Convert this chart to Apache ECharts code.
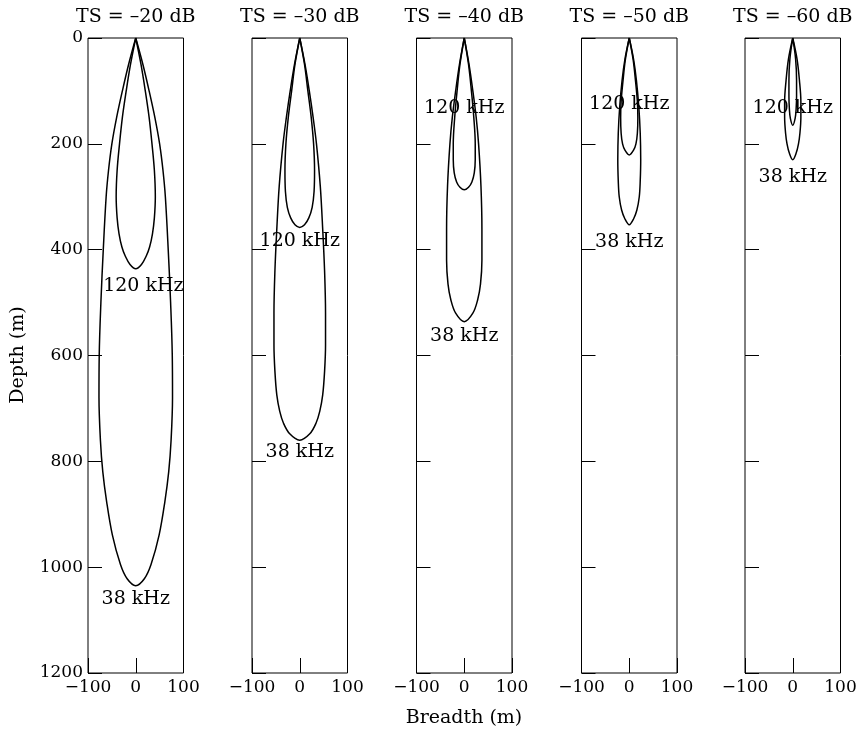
<!DOCTYPE html>
<html>
<head>
<meta charset="utf-8">
<title>Detection range by target strength</title>
<script src="https://cdn.jsdelivr.net/npm/echarts@6/dist/echarts.min.js"></script>
<style>
  html, body { margin: 0; padding: 0; background: #fff; }
  #chart { width: 860px; height: 733px; }
</style>
</head>
<body>
<div id="chart"></div>
<script>
// Target strength of each panel
const tsLevels = ['–20', '–30', '–40', '–50', '–60'];

// 38 kHz beam outline: depth (m) and half-breadth (m) along the right-hand side, top to bottom
const depth38 = [
  [0, 50, 100, 150, 200, 250, 300, 400, 500, 600, 680, 760, 820, 876, 939, 995, 1022, 1035],
  [0, 50, 100, 150, 200, 280, 360, 440, 520, 580, 630, 675, 705, 728, 748, 760],
  [0, 50, 100, 150, 200, 280, 360, 420, 465, 495, 520, 536],
  [0, 40, 80, 130, 180, 230, 270, 300, 325, 342, 353],
  [0, 40, 80, 120, 150, 180, 200, 218, 230]
];
const half38 = [
  [0, 15, 28, 40, 50, 57, 62, 68, 73, 76.5, 77, 74, 69, 61, 49, 32, 18, 0],
  [0, 11, 20, 28, 35, 43, 48, 52, 54, 54, 52, 48, 42, 34, 21, 0],
  [0, 10, 18, 25, 30, 35, 37, 37, 34, 28, 18, 0],
  [0, 9, 15, 20, 23, 24, 23, 21, 16, 9, 0],
  [0, 9, 14, 17, 17, 15, 12, 7, 0]
];

// 120 kHz beam outline
const depth120 = [
  [0, 50, 100, 150, 200, 250, 300, 340, 370, 395, 412, 428, 436],
  [0, 50, 100, 150, 200, 250, 290, 320, 340, 353, 358],
  [0, 50, 100, 150, 200, 230, 255, 272, 282, 287],
  [0, 40, 80, 120, 150, 180, 200, 212, 221],
  [0, 40, 80, 110, 135, 152, 165]
];
const half120 = [
  [0, 11, 20, 28, 34, 39, 41, 39, 35, 29, 22, 12, 0],
  [0, 10, 17, 24, 29, 31, 30, 26, 19, 10, 0],
  [0, 9, 15, 20, 23, 23, 21, 16, 9, 0],
  [0, 8, 13, 17, 18, 17, 14, 9, 0],
  [0, 6, 8, 8, 7, 5, 0]
];

// Frequency label anchors [breadth, depth] in each panel
const label38At = [[0, 1061], [0, 783], [0, 563], [0, 385], [0, 263]];
const label120At = [[16, 469], [0, 383], [0, 133], [0, 125], [0, 133]];

// Axis ticks
const breadthTicks = { min: -100, max: 100, step: 100 };
const depthTicks = { min: 0, max: 1200, step: 200 };

const FONT = 'DejaVu Serif';
const panelLeft = [88, 252, 416.5, 581.5, 745];
const panelWidth = 95.5;
const panelTop = 38;
const panelHeight = 635;

// Closed outline: right side downward, then the mirrored left side back up
function outline(depths, halves) {
  const pts = depths.map((d, i) => [halves[i], d]);
  for (let i = depths.length - 2; i >= 0; i--) pts.push([-halves[i], depths[i]]);
  return pts;
}

const grids = [], xAxes = [], yAxes = [], series = [], graphics = [];

tsLevels.forEach((ts, i) => {
  grids.push({
    left: panelLeft[i], top: panelTop, width: panelWidth, height: panelHeight,
    show: true, borderColor: '#000', borderWidth: 1, backgroundColor: 'transparent'
  });
  xAxes.push({
    type: 'value', gridIndex: i, position: 'bottom',
    min: breadthTicks.min, max: breadthTicks.max, interval: breadthTicks.step,
    axisLine: { show: false, onZero: false },
    axisTick: { show: true, inside: true, length: 15, lineStyle: { color: '#000', width: 1 } },
    splitLine: { show: false },
    axisLabel: {
      color: '#000', fontFamily: FONT, fontSize: 17, margin: 6,
      formatter: v => (v < 0 ? '\u2212' + (-v) : String(v))
    }
  });
  yAxes.push({
    type: 'value', gridIndex: i, inverse: true, position: 'left',
    min: depthTicks.min, max: depthTicks.max, interval: depthTicks.step,
    axisLine: { show: false, onZero: false },
    axisTick: { show: true, inside: true, length: 14, lineStyle: { color: '#000', width: 1 } },
    splitLine: { show: false },
    axisLabel: {
      show: i === 0, color: '#000', fontFamily: FONT, fontSize: 17, margin: 5,
      formatter: v => String(v)
    }
  });

  const lineStyle = { color: '#000', width: 1.5 };
  series.push({
    type: 'line', xAxisIndex: i, yAxisIndex: i, name: '38 kHz',
    data: outline(depth38[i], half38[i]), smooth: 0.35, showSymbol: false,
    lineStyle, silent: true, animation: false
  });
  series.push({
    type: 'line', xAxisIndex: i, yAxisIndex: i, name: '120 kHz',
    data: outline(depth120[i], half120[i]), smooth: 0.35, showSymbol: false,
    lineStyle, silent: true, animation: false
  });
  series.push({
    type: 'scatter', xAxisIndex: i, yAxisIndex: i, silent: true, animation: false,
    symbolSize: 1, itemStyle: { color: 'rgba(0,0,0,0)' },
    data: [
      { value: label120At[i], name: '120 kHz' },
      { value: label38At[i], name: '38 kHz' }
    ],
    label: {
      show: true, position: 'inside', formatter: p => p.name,
      color: '#000', textBorderWidth: 0, textBorderColor: 'transparent',
      opacity: 1, fontFamily: FONT, fontSize: 19
    }
  });

  graphics.push({
    type: 'text', x: panelLeft[i] + panelWidth / 2, y: 17,
    style: {
      text: 'TS = ' + ts + ' dB', align: 'center', verticalAlign: 'middle',
      fontFamily: FONT, fontSize: 19, fill: '#000'
    }
  });
});

graphics.push({
  type: 'text', x: 464, y: 718,
  style: { text: 'Breadth (m)', align: 'center', verticalAlign: 'middle', fontFamily: FONT, fontSize: 19, fill: '#000' }
});
graphics.push({
  type: 'text', x: 18, y: 355, rotation: Math.PI / 2,
  style: { text: 'Depth (m)', align: 'center', verticalAlign: 'middle', fontFamily: FONT, fontSize: 19, fill: '#000' }
});

const chart = echarts.init(document.getElementById('chart'), null, { renderer: 'canvas' });
chart.setOption({
  animation: false,
  backgroundColor: '#fff',
  grid: grids,
  xAxis: xAxes,
  yAxis: yAxes,
  series: series,
  graphic: graphics
});
</script>
</body>
</html>
